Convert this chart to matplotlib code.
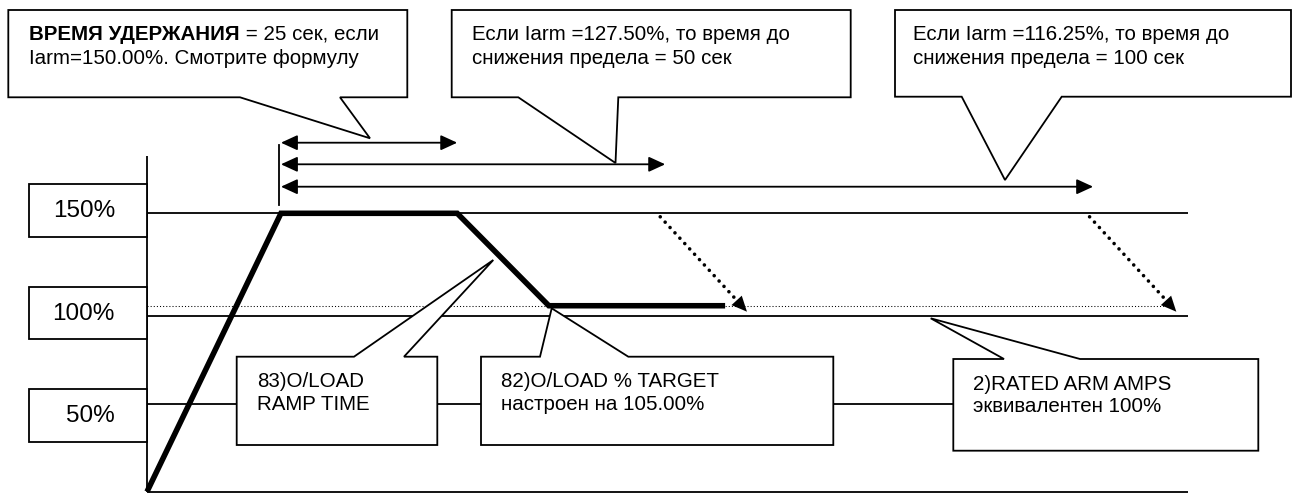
import numpy as np
import matplotlib
matplotlib.use("Agg")
import matplotlib.pyplot as plt
from matplotlib.patches import Polygon, Rectangle, FancyArrowPatch
from matplotlib import transforms

plt.rcParams['font.family'] = ['Liberation Sans', 'DejaVu Sans']

# ---------------- data ----------------
level_pct = [150, 100, 50]
level_labels = ['150%', '100%', '50%']
target_pct = 105
# overload profile: schematic time (s) vs % of rated armature current
profile_t = [0, 19, 44, 57, 82]
profile_pct = [0, 150, 150, 105, 105]
# hold-time arrows (schematic, not to scale)
hold_start_t = 19
hold_end_t = [44, 73.5, 134.2]
# dotted ramp-down arrows after the longer hold times
ramp_start_t = [72.8, 133.7]
ramp_start_pct = [148.3, 148.3]
ramp_end_t = [85.1, 146.0]
ramp_end_pct = [102.1, 102.1]
axis_end_t = 147.7
axis_top_pct = 178

top_texts = [
    ("ВРЕМЯ УДЕРЖАНИЯ", " = 25 сек, если", "Iarm=150.00%. Смотрите формулу"),
    ("", "Если Iarm =127.50%, то время до", "снижения предела = 50 сек"),
    ("", "Если Iarm =116.25%, то время до", "снижения предела = 100 сек"),
]
bottom_texts = [
    ("83)O/LOAD", "RAMP TIME"),
    ("82)O/LOAD % TARGET", "настроен на 105.00%"),
    ("2)RATED ARM AMPS", "эквивалентен 100%"),
]

# ---------------- figure ----------------
W, H = 1293, 493
fig = plt.figure(figsize=(W / 100, H / 100), dpi=100)
fig.patch.set_facecolor('white')

# data axes: x = schematic seconds, y = percent (schematic, piecewise scale)
PX_PER_S = 7.05
X0_PX = 147
P_NODES = [-100, 0, 50, 100, 150, 400]
H_NODES = [-173.5, 1.3, 88.7, 177.0, 279.7, 793.2]


def fwd(p):
    return np.interp(p, P_NODES, H_NODES)


def inv(h):
    return np.interp(h, H_NODES, P_NODES)


ax = fig.add_axes([0, 0, 1, 1])
ax.set_yscale('function', functions=(fwd, inv))
ax.set_xlim(-X0_PX / PX_PER_S, (W - X0_PX) / PX_PER_S)
ax.set_ylim(float(inv(0)), float(inv(H)))
ax.axis('off')

# overlay axes in pixel layout coordinates for annotation boxes
ov = fig.add_axes([0, 0, 1, 1])
ov.set_xlim(0, W)
ov.set_ylim(H, 0)
ov.axis('off')
ov.patch.set_alpha(0)

LW = 1.3
# axes lines
ax.plot([0, 0], [0, axis_top_pct], color='black', lw=LW, solid_capstyle='butt')
ax.plot([0, axis_end_t], [0, 0], color='black', lw=LW, solid_capstyle='butt')
for p in level_pct:
    ax.plot([0, axis_end_t], [p, p], color='black', lw=LW, solid_capstyle='butt')
# target dotted line
ax.plot([0, ramp_end_t[-1] - 1.5], [target_pct, target_pct], color='black', lw=0.75,
        linestyle=(0, (1, 2)))

# overload profile
ax.plot(profile_t, profile_pct, color='black', lw=4.0, solid_joinstyle='miter',
        solid_capstyle='butt', zorder=5)

# dotted ramp-down arrows
for t0, p0, t1, p1 in zip(ramp_start_t, ramp_start_pct, ramp_end_t, ramp_end_pct):
    ax.plot([t0, t1 - 1.3], [p0, p1 + 5], color='black', lw=2.6,
            linestyle=(0, (0.01, 2.0)), dash_capstyle='round', zorder=4)
    frac = 0.16
    ta = t1 - (t1 - t0) * frac
    pa = p1 + (p0 - p1) * frac
    ax.add_patch(FancyArrowPatch((ta, pa), (t1, p1), arrowstyle='-|>,head_length=11,head_width=5',
                                 mutation_scale=1, lw=0.01, color='black', shrinkA=0, shrinkB=0,
                                 zorder=6))

# hold-time arrows (x in seconds, y in layout pixels)
blend = transforms.blended_transform_factory(ax.transData, ov.transData)
arrow_y = [142.7, 164.3, 186.7]
for te, y in zip(hold_end_t, arrow_y):
    ax.add_patch(FancyArrowPatch((hold_start_t, y), (te, y), transform=blend,
                                 arrowstyle='<|-|>,head_length=10,head_width=4.6',
                                 mutation_scale=1, lw=LW, color='black',
                                 shrinkA=0, shrinkB=0, zorder=6))
ax.plot([hold_start_t - 0.25, hold_start_t - 0.25], [145, 205], transform=blend,
        color='black', lw=LW)

# level label boxes
box_tops = [184.3, 287, 389.3]
for lab, top in zip(level_labels, box_tops):
    ov.add_patch(Rectangle((29, top), 118, 52.4, facecolor='white', edgecolor='black', lw=LW))
    ov.text(115, top + 27, lab, ha='right', va='center', fontsize=17.5)


def callout(box, base, tip, side):
    x0, y0, x1, y1 = box
    b0, b1 = base
    if side == 'bottom':
        pts = [(x0, y0), (x1, y0), (x1, y1), (b1, y1), tip, (b0, y1), (x0, y1)]
    else:
        pts = [(x0, y0), (b0, y0), tip, (b1, y0), (x1, y0), (x1, y1), (x0, y1)]
    ov.add_patch(Polygon(pts, closed=True, facecolor='white', edgecolor='black', lw=LW,
                         joinstyle='miter', zorder=3))


FS = 14.8
# top callouts
top_boxes = [(8.3, 10, 407.3, 97.3), (451.7, 10, 850.7, 97.3), (895, 10, 1291, 96.7)]
top_bases = [(240, 340), (518.3, 618.3), (961.7, 1061.7)]
top_tips = [(370, 138.3), (615.5, 163), (1005, 180)]
top_text_x = [29.3, 471.7, 913]
for box, base, tip, tx, (bold, l1, l2) in zip(top_boxes, top_bases, top_tips, top_text_x, top_texts):
    callout(box, base, tip, 'bottom')
    if bold:
        t1 = ov.text(tx, 40, bold, fontsize=FS, fontweight='bold', va='baseline', ha='left', zorder=4)
        ov.annotate(l1, xy=(1, 40), xycoords=(t1, 'data'), fontsize=FS, va='baseline',
                    ha='left', zorder=4)
    else:
        ov.text(tx, 40, l1, fontsize=FS, va='baseline', ha='left', zorder=4)
    ov.text(tx, 64, l2, fontsize=FS, va='baseline', ha='left', zorder=4)

# bottom callouts
bot_boxes = [(236.7, 356.7, 437.3, 445), (481, 356.7, 833.3, 445), (953.3, 359, 1258.3, 450.7)]
bot_bases = [(354, 404), (540, 628.3), (1004, 1080)]
bot_tips = [(493.3, 260), (551.7, 308.3), (930.7, 318.3)]
bot_text_x = [256.7, 501, 972.7]
bot_base_y = [387, 387, 389.5]
for box, base, tip, tx, by, (l1, l2) in zip(bot_boxes, bot_bases, bot_tips, bot_text_x,
                                            bot_base_y, bottom_texts):
    callout(box, base, tip, 'top')
    ov.text(tx, by, l1, fontsize=FS, va='baseline', ha='left', zorder=4)
    ov.text(tx, by + 23, l2, fontsize=FS, va='baseline', ha='left', zorder=4)

fig.savefig('out.png', dpi=100, facecolor='white')
